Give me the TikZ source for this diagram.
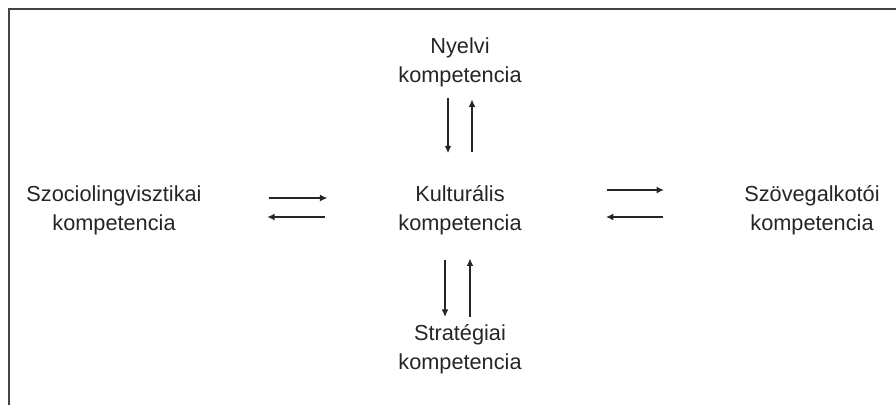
\documentclass[tikz,border=0pt]{standalone}
\usepackage{fontspec}
\setmainfont{Liberation Sans}
\usetikzlibrary{arrows.meta}
\definecolor{ink}{HTML}{252525}
\definecolor{framegray}{HTML}{444444}

\begin{document}
\begin{tikzpicture}[
x=0.75pt,
y=-0.75pt,
every node/.style={font=\fontsize{16.3}{21.75}\selectfont,text=ink},
komp/.style={align=center,inner sep=0pt},
arr/.style={-{Latex[length=5.6pt,width=5.2pt]},line width=1.2pt,draw=ink}
]
\useasboundingbox (0,0) rectangle (896,405);
\draw[framegray,line width=1.4pt] (896,9) -- (9,9) -- (9,405);

\node[komp] (nyelvi) at (460,62) {Nyelvi\\kompetencia};
\node[komp] (kultur) at (460,210) {Kulturális\\kompetencia};
\node[komp] (strat) at (460,349) {Stratégiai\\kompetencia};
\node[komp] (szocio) at (114,210) {Szociolingvisztikai\\kompetencia};
\node[komp] (szoveg) at (812,210) {Szövegalkotói\\kompetencia};

\draw[arr,shorten <=8.6pt,shorten >=23.8pt] ([shift={(-12,0)}]nyelvi.south) -- ([shift={(-12,0)}]kultur.north);
\draw[arr,shorten <=24.5pt,shorten >=9.4pt] ([shift={(12,0)}]kultur.north) -- ([shift={(12,0)}]nyelvi.south);
\draw[arr,shorten <=18.4pt,shorten >=5.3pt] ([shift={(-15,0)}]kultur.south) -- ([shift={(-15,0)}]strat.north);
\draw[arr,shorten <=5.3pt,shorten >=17.6pt] ([shift={(10,0)}]strat.north) -- ([shift={(10,0)}]kultur.south);
\draw[arr,shorten <=50pt,shorten >=53pt] ([shift={(0,-12)}]szocio.east) -- ([shift={(0,-12)}]kultur.west);
\draw[arr,shorten <=54.5pt,shorten >=49pt] ([shift={(0,7)}]kultur.west) -- ([shift={(0,7)}]szocio.east);
\draw[arr,shorten <=64pt,shorten >=60pt] ([shift={(0,-20)}]kultur.east) -- ([shift={(0,-20)}]szoveg.west);
\draw[arr,shorten <=61pt,shorten >=63pt] ([shift={(0,7)}]szoveg.west) -- ([shift={(0,7)}]kultur.east);
\end{tikzpicture}
\end{document}
